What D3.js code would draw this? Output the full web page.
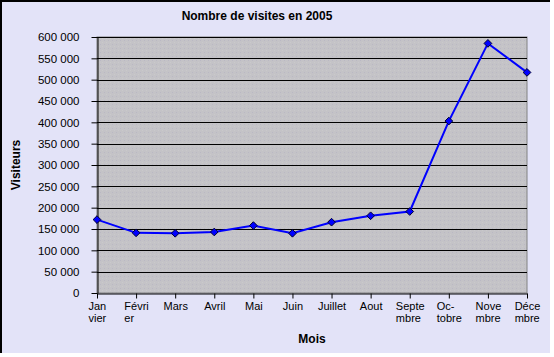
<!DOCTYPE html>
<html><head><meta charset="utf-8">
<script src="https://cdn.jsdelivr.net/npm/d3@7"></script>
<style>html,body{margin:0;padding:0;background:#fff;}svg{display:block;font-family:"Liberation Sans",Arial,sans-serif;}</style>
</head><body>
<svg id="c" width="554" height="357"></svg>
<script>
const months = [["Jan","vier"],["Févri","er"],["Mars"],["Avril"],["Mai"],["Juin"],["Juillet"],["Aout"],["Septe","mbre"],["Oc-","tobre"],["Nove","mbre"],["Déce","mbre"]];
const visits = [172000,141000,140000,143000,158000,140000,166000,181000,191000,403000,585000,517000];
const yTicks = [0,50000,100000,150000,200000,250000,300000,350000,400000,450000,500000,550000,600000];

const svg = d3.select("#c");
const L=97, R=527, T=37, B=293;
svg.append("rect").attr("x",0).attr("y",0).attr("width",550).attr("height",353).attr("fill","#E3E3F8");
svg.append("path").attr("d","M1,353V1H550").attr("fill","none").attr("stroke","#000").attr("stroke-width",2);

const defs = svg.append("defs");
const pat = defs.append("pattern").attr("id","dots").attr("patternUnits","userSpaceOnUse").attr("width",4).attr("height",4);
pat.append("rect").attr("width",4).attr("height",4).attr("fill","#C4C3C7");
pat.append("rect").attr("x",0).attr("y",0).attr("width",1).attr("height",1).attr("fill","#BAB8C4");
pat.append("rect").attr("x",2).attr("y",2).attr("width",1).attr("height",1).attr("fill","#CAC9CC");

const idx = d3.range(months.length);
const x = d3.scalePoint().domain(idx).range([L,R]);
const y = d3.scaleLinear().domain([0,600000]).range([B,T]);

svg.append("rect").attr("x",L).attr("y",T).attr("width",R-L).attr("height",B-T).attr("fill","url(#dots)").attr("stroke","#808080").attr("stroke-width",1);

// gridlines
svg.append("g").selectAll("line").data(yTicks.filter(d=>d>0)).join("line")
  .attr("x1",L).attr("x2",R).attr("y1",d=>Math.round(y(d))+0.5).attr("y2",d=>Math.round(y(d))+0.5)
  .attr("stroke","#000").attr("stroke-width",1);

const fmt = d => d===0 ? "0" : d3.format(",")(d).replace(/,/g," ");
const ya = svg.append("g").attr("transform",`translate(${L+0.5},0)`)
  .call(d3.axisLeft(y).tickValues(yTicks).tickSize(6).tickSizeOuter(0).tickFormat(fmt));
ya.select(".domain").attr("stroke","#000");
ya.selectAll(".tick line").attr("stroke","#000");
ya.selectAll(".tick text").attr("font-size","11.5px").attr("fill","#000").attr("x",-18).attr("font-family","Liberation Sans, Arial, sans-serif");

const xa = svg.append("g").attr("transform",`translate(0,${B+0.5})`)
  .call(d3.axisBottom(x).tickSize(5).tickSizeOuter(0).tickFormat(""));
xa.select(".domain").attr("stroke","#000");
xa.selectAll(".tick line").attr("stroke","#000");
xa.selectAll(".tick").each(function(d){
  const t = d3.select(this).append("text").attr("fill","#000").attr("font-size","11px")
    .attr("text-anchor", months[d].length>1 ? "start" : "middle").attr("font-family","Liberation Sans, Arial, sans-serif");
  months[d].forEach((s,i)=>t.append("tspan").attr("x",0).attr("y",16+i*12).text(s));
  if (months[d].length>1) {
    const w = t.node().getBBox().width;
    t.selectAll("tspan").attr("x",-w/2);
  }
});

const line = d3.line().x((d,i)=>x(i)).y(d=>y(d));
svg.append("path").datum(visits).attr("d",line).attr("fill","none").attr("stroke","#0000FF").attr("stroke-width",2);
svg.append("g").selectAll("path").data(visits).join("path")
  .attr("d",d3.symbol(d3.symbolDiamond2,38))
  .attr("transform",(d,i)=>`translate(${x(i)},${y(d)})`)
  .attr("fill","#0000FF").attr("stroke","#000033").attr("stroke-width",1);

svg.append("text").attr("x",257).attr("y",20).attr("text-anchor","middle").attr("font-size","12px").attr("font-weight","bold").text("Nombre de visites en 2005");
svg.append("text").attr("x",312).attr("y",343).attr("text-anchor","middle").attr("font-size","12px").attr("font-weight","bold").text("Mois");
svg.append("text").attr("transform","translate(20,165) rotate(-90)").attr("text-anchor","middle").attr("font-size","12px").attr("font-weight","bold").text("Visiteurs");
</script>
</body></html>
